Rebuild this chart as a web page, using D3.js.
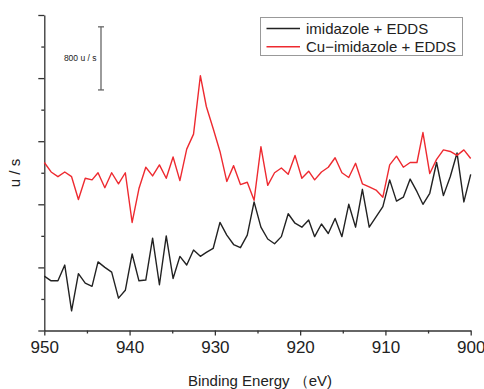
<!DOCTYPE html>
<html>
<head>
<meta charset="utf-8">
<script src="https://cdn.jsdelivr.net/npm/d3@7"></script>
<style>
  html, body { margin: 0; padding: 0; background: #fff; }
  svg { display: block; font-family: "Liberation Sans", Arial, sans-serif; }
</style>
</head>
<body>
<svg id="chart" width="484" height="389"></svg>
<script>
const energies = [950, 949.2, 948.4, 947.6, 946.8, 946.0, 945.2, 944.4, 943.7, 942.9,
  942.1, 941.3, 940.5, 939.7, 938.9, 938.1, 937.3, 936.5, 935.7, 934.9,
  934.1, 933.3, 932.5, 931.7, 931.0, 930.2, 929.4, 928.6, 927.8, 927.0,
  926.2, 925.4, 924.6, 923.8, 923.0, 922.2, 921.4, 920.6, 919.8, 919.0,
  918.3, 917.5, 916.7, 915.9, 915.1, 914.3, 913.5, 912.7, 911.9, 911.1,
  910.3, 909.5, 908.7, 907.9, 907.1, 906.3, 905.6, 904.8, 904.0, 903.2,
  902.4, 901.6, 900.8, 900.0];

const imidazole = [690, 630, 630, 830, 250, 720, 600, 560, 870, 800,
  740, 410, 510, 970, 630, 640, 1170, 580, 1200, 660,
  940, 830, 1020, 940, 990, 1040, 1370, 1210, 1090, 1050,
  1210, 1630, 1310, 1160, 1100, 1190, 1480, 1360, 1310, 1400,
  1190, 1350, 1230, 1420, 1190, 1600, 1310, 1790, 1310, 1440,
  1570, 1910, 1640, 1690, 1920, 1760, 1600, 1740, 2130, 1710,
  1950, 2250, 1630, 1980];

const cuImidazole = [2130, 2010, 1950, 2010, 1950, 1660, 1930, 1910, 2000, 1810,
  2000, 1860, 2000, 1370, 1800, 2070, 1960, 2100, 1930, 2200,
  1900, 2300, 2490, 3230, 2840, 2560, 2270, 1890, 2090, 1850,
  1880, 1650, 2330, 1840, 2000, 2060, 1980, 2220, 1930, 2020,
  1910, 2010, 2070, 2190, 2000, 1940, 2120, 1860, 1820, 1780,
  1690, 2100, 2210, 2070, 2130, 2130, 2510, 1990, 2170, 2290,
  2270, 2220, 2290, 2180];

const xTicks = [950, 940, 930, 920, 910, 900];
const xMinorTicks = [945, 935, 925, 915, 905];
const yTicks = [0, 800, 1600, 2400, 3200, 4000];
const yMinorTicks = [400, 1200, 2000, 2800, 3600];
const scaleBar = [3050, 3850];

const seriesNames = ['imidazole + EDDS', 'Cu\u2212imidazole + EDDS'];
const seriesColors = ['#222222', '#ee2a30'];

const svg = d3.select('#chart');

const x = d3.scaleLinear().domain([950, 900]).range([44.3, 470.7]);
const y = d3.scaleLinear().domain([0, 4000]).range([330.5, 15]);

// axes
svg.append('g')
  .attr('transform', 'translate(0,330.5)')
  .call(d3.axisBottom(x).tickValues(xMinorTicks).tickSize(3).tickFormat(''))
  .call(g => g.select('.domain').remove());

const xAxis = svg.append('g')
  .attr('transform', 'translate(0,330.5)')
  .call(d3.axisBottom(x).tickValues(xTicks).tickSize(5).tickSizeOuter(0).tickPadding(5).tickFormat(d3.format('d')));
xAxis.selectAll('text').attr('font-size', 17).attr('fill', '#222').attr('font-family', '"Liberation Sans", Arial, sans-serif');

svg.append('g')
  .attr('transform', 'translate(44.3,0)')
  .call(d3.axisLeft(y).tickValues(yMinorTicks).tickSize(3).tickFormat(''))
  .call(g => g.select('.domain').remove());

svg.append('g')
  .attr('transform', 'translate(44.3,0)')
  .call(d3.axisLeft(y).tickValues(yTicks).tickSize(6).tickSizeOuter(0).tickFormat(''));

svg.selectAll('.domain, .tick line').attr('stroke', '#333').attr('stroke-width', 1.3);

// data lines
const line = d3.line()
  .x((d, i) => x(energies[i]))
  .y(d => y(d));

[imidazole, cuImidazole].forEach((vals, k) => {
  svg.append('path')
    .datum(vals)
    .attr('fill', 'none')
    .attr('stroke', seriesColors[k])
    .attr('stroke-width', 1.4)
    .attr('stroke-linejoin', 'round')
    .attr('d', line);
});

// 800 u/s scale bar
const barX = 101;
svg.append('line')
  .attr('x1', barX).attr('x2', barX)
  .attr('y1', y(scaleBar[0])).attr('y2', y(scaleBar[1]))
  .attr('stroke', '#666').attr('stroke-width', 1.3);
scaleBar.forEach(v => {
  svg.append('line')
    .attr('x1', barX - 3).attr('x2', barX + 3)
    .attr('y1', y(v)).attr('y2', y(v))
    .attr('stroke', '#666').attr('stroke-width', 1.3);
});
svg.append('text')
  .attr('x', 96.5).attr('y', y(d3.mean(scaleBar)) + 3)
  .attr('text-anchor', 'end')
  .attr('font-size', 8.5)
  .attr('fill', '#222')
  .text('800 u / s');

// legend
const legend = svg.append('g');
legend.append('rect')
  .attr('x', 260.5).attr('y', 17.5)
  .attr('width', 202).attr('height', 38)
  .attr('fill', '#fff').attr('stroke', '#999').attr('stroke-width', 1);
seriesNames.forEach((name, k) => {
  const ly = 28.5 + k * 18.3;
  legend.append('line')
    .attr('x1', 266.5).attr('x2', 300)
    .attr('y1', ly).attr('y2', ly)
    .attr('stroke', seriesColors[k]).attr('stroke-width', 1.4);
  legend.append('text')
    .attr('x', 306).attr('y', ly + 5.3)
    .attr('font-size', 15)
    .attr('fill', '#222')
    .text(name);
});

// axis titles
svg.append('text')
  .attr('x', 260).attr('y', 386)
  .attr('text-anchor', 'middle')
  .attr('font-size', 15)
  .attr('fill', '#222')
  .text('Binding Energy （eV)');

svg.append('text')
  .attr('transform', 'translate(20,173) rotate(-90)')
  .attr('text-anchor', 'middle')
  .attr('font-size', 15)
  .attr('fill', '#222')
  .text('u / s');
</script>
</body>
</html>
